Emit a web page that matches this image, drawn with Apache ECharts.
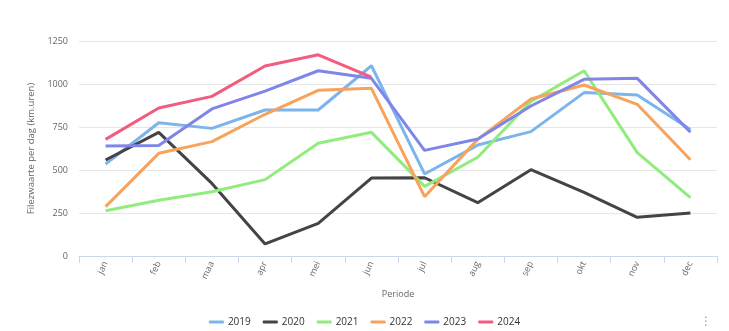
<!DOCTYPE html>
<html>
<head>
<meta charset="utf-8">
<script src="https://cdn.jsdelivr.net/npm/echarts@6/dist/echarts.min.js"></script>
<style>
html,body{margin:0;padding:0;background:#fff;}
#c{width:729px;height:331px;}
</style>
</head>
<body>
<div id="c"></div>
<script>
var months = ['jan','feb','maa','apr','mei','jun','jul','aug','sep','okt','nov','dec'];
var yTicks = [0, 250, 500, 750, 1000, 1250];
var years = ['2019','2020','2021','2022','2023','2024'];
var colors = ['#7cb5ec','#434348','#90ed7d','#f7a35c','#8085e9','#f15c80'];

var v2019 = [535, 775, 742, 849, 849, 1106, 477, 645, 723, 950, 936, 735];
var v2020 = [558, 719, 422, 70, 190, 453, 455, 310, 502, 370, 225, 250];
var v2021 = [263, 324, 374, 444, 655, 719, 405, 574, 899, 1077, 601, 339];
var v2022 = [287, 597, 665, 824, 963, 975, 345, 678, 913, 994, 882, 560];
var v2023 = [640, 643, 855, 959, 1077, 1033, 614, 680, 872, 1027, 1033, 720];
var v2024 = [678, 860, 928, 1105, 1170, 1040, null, null, null, null, null, null];

var seriesValues = [v2019, v2020, v2021, v2022, v2023, v2024];

var font = '"Open Sans", sans-serif';
var chart = echarts.init(document.getElementById('c'), null, {renderer: 'canvas'});
chart.setOption({
  animation: false,
  color: colors,
  textStyle: {fontFamily: font},
  grid: {left: 79, right: 12, top: 41, bottom: 75, containLabel: false},
  legend: {
    data: years.map(function (y) { return {name: y, icon: 'roundRect'}; }),
    bottom: -1,
    left: 'center',
    itemWidth: 15,
    itemHeight: 3,
    itemGap: 12,
    textStyle: {fontFamily: font, fontSize: 10, color: '#333', fontWeight: 'normal', padding: [0, 0, 0, -1]}
  },
  xAxis: {
    type: 'category',
    data: months,
    boundaryGap: true,
    name: 'Periode',
    nameLocation: 'middle',
    nameGap: 34,
    nameTextStyle: {fontFamily: font, fontSize: 9, color: '#666'},
    axisLine: {lineStyle: {color: '#ccd6eb', width: 1}},
    axisTick: {show: true, length: 7, lineStyle: {color: '#ccd6eb'}, alignWithLabel: false},
    axisLabel: {rotate: 65, fontSize: 9, color: '#666', margin: 6, fontFamily: font},
    splitLine: {show: false}
  },
  yAxis: {
    type: 'value',
    min: yTicks[0],
    max: yTicks[yTicks.length - 1],
    interval: 250,
    name: 'Filezwaarte per dag (km.uren)',
    nameLocation: 'middle',
    nameGap: 29,
    nameRotate: 90,
    nameTextStyle: {fontFamily: font, fontSize: 9.5, color: '#666'},
    axisLine: {show: false},
    axisTick: {show: false},
    axisLabel: {fontSize: 9, color: '#666', margin: 11, fontFamily: font,
      formatter: function (v) { return String(v); }},
    splitLine: {lineStyle: {color: '#e6e6e6', width: 1}}
  },
  series: years.map(function (y, i) {
    return {
      name: y,
      type: 'line',
      data: seriesValues[i],
      symbol: 'none',
      lineStyle: {width: 3, color: colors[i]},
      itemStyle: {color: colors[i]},
      connectNulls: false,
      z: 2 + i
    };
  }),
  graphic: [{
    type: 'text',
    left: 700,
    top: 316,
    style: {text: '⋮', fill: '#999', fontSize: 12, fontFamily: 'DejaVu Sans'}
  }]
});
</script>
</body>
</html>
